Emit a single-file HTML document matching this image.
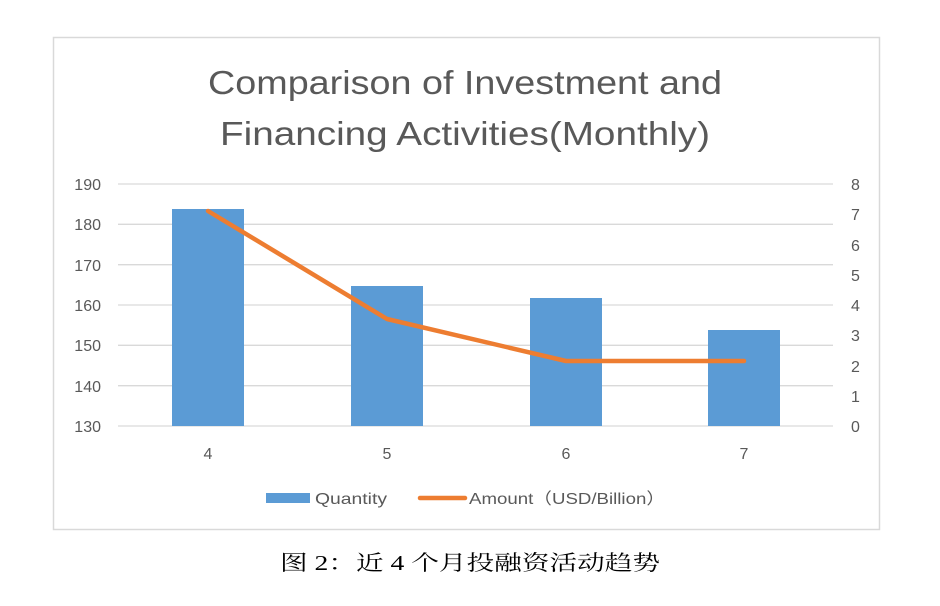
<!DOCTYPE html>
<html><head><meta charset="utf-8"><style>
html,body{margin:0;padding:0;background:#fff;width:940px;height:606px;overflow:hidden}
</style></head><body>
<svg width="940" height="606" xmlns="http://www.w3.org/2000/svg">
<rect x="53.5" y="37.5" width="826" height="492" fill="#fff" stroke="#d9d9d9" stroke-width="1.5"/>
<g font-family="Liberation Sans, sans-serif" fill="#595959">
<text x="465" y="94" font-size="33" text-anchor="middle" textLength="514" lengthAdjust="spacingAndGlyphs">Comparison of Investment and</text>
<text x="465" y="145" font-size="33" text-anchor="middle" textLength="490" lengthAdjust="spacingAndGlyphs">Financing Activities(Monthly)</text>
</g>
<g stroke="#d9d9d9" stroke-width="1.3">
<line x1="118" x2="833" y1="184" y2="184"/>
<line x1="118" x2="833" y1="224.3" y2="224.3"/>
<line x1="118" x2="833" y1="264.7" y2="264.7"/>
<line x1="118" x2="833" y1="305" y2="305"/>
<line x1="118" x2="833" y1="345.3" y2="345.3"/>
<line x1="118" x2="833" y1="385.7" y2="385.7"/>
<line x1="118" x2="833" y1="426" y2="426"/>
</g>
<g fill="#5b9bd5">
<rect x="172" y="209" width="72" height="217"/>
<rect x="351" y="286" width="72" height="140"/>
<rect x="530" y="298" width="72" height="128"/>
<rect x="708" y="330" width="72" height="96"/>
</g>
<polyline points="208,211 387,319 566,361 744,361" fill="none" stroke="#ed7d31" stroke-width="4.5" stroke-linejoin="round" stroke-linecap="round"/>
<g font-family="Liberation Sans, sans-serif" font-size="16" fill="#595959">
<g text-anchor="end">
<text x="101" y="190">190</text><text x="101" y="230">180</text><text x="101" y="271">170</text>
<text x="101" y="311">160</text><text x="101" y="351">150</text><text x="101" y="392">140</text><text x="101" y="432">130</text>
</g>
<g>
<text x="851" y="190">8</text><text x="851" y="220">7</text><text x="851" y="251">6</text><text x="851" y="281">5</text>
<text x="851" y="311">4</text><text x="851" y="341">3</text><text x="851" y="372">2</text><text x="851" y="402">1</text><text x="851" y="432">0</text>
</g>
<g text-anchor="middle">
<text x="208" y="459">4</text><text x="387" y="459">5</text><text x="566" y="459">6</text><text x="744" y="459">7</text>
</g>
<rect x="266" y="493" width="44" height="10" fill="#5b9bd5"/>
<text x="315" y="504" textLength="72" lengthAdjust="spacingAndGlyphs">Quantity</text>
<line x1="420" x2="465" y1="498" y2="498" stroke="#ed7d31" stroke-width="4.5" stroke-linecap="round"/>
<text x="469" y="504" textLength="196" lengthAdjust="spacingAndGlyphs">Amount（USD/Billion）</text>
</g>
<text x="470" y="570" font-family="Liberation Serif, Noto Serif CJK SC, serif" font-size="21" fill="#000" text-anchor="middle" textLength="380" lengthAdjust="spacingAndGlyphs">图 2：近 4 个月投融资活动趋势</text>
</svg>
</body></html>
